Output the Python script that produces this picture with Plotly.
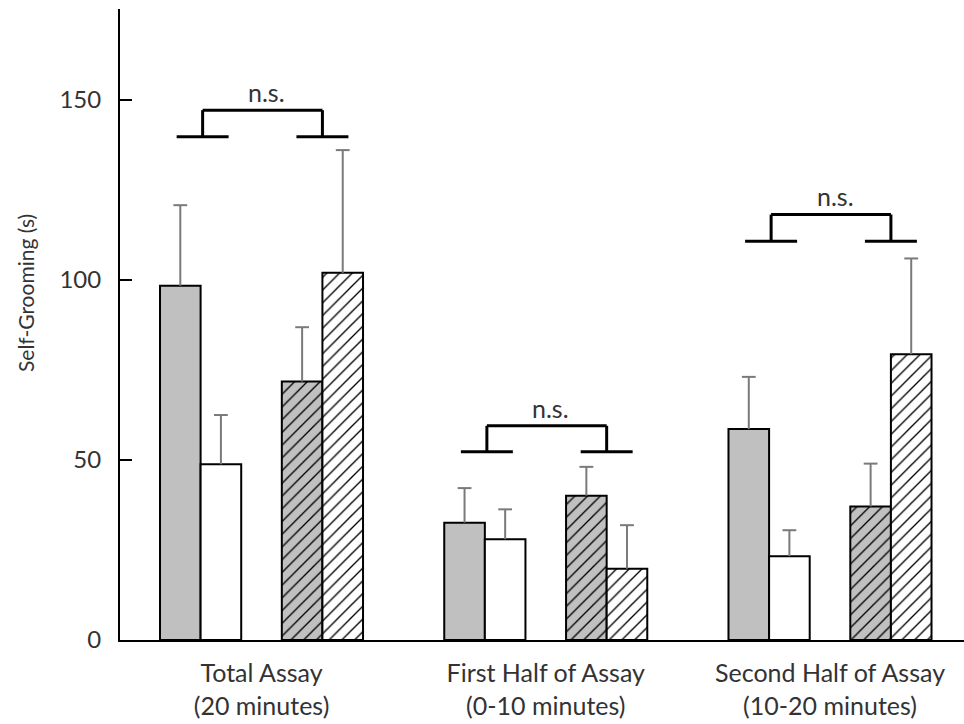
import plotly.graph_objects as go

# ---- data ----
groups = ["Total Assay<br>(20 minutes)", "First Half of Assay<br>(0-10 minutes)", "Second Half of Assay<br>(10-20 minutes)"]
grey_vals = [98.4, 32.6, 58.6]
grey_err = [120.8, 42.2, 73.1]
white_vals = [48.8, 28.0, 23.3]
white_err = [62.5, 36.3, 30.5]
hgrey_vals = [71.8, 40.1, 37.1]
hgrey_err = [86.9, 48.1, 49.0]
hwhite_vals = [102.0, 19.8, 79.4]
hwhite_err = [136.1, 31.9, 106.0]

# significance brackets (one per group): top line, base line
bracket_top = [147.2, 59.5, 118.2]
bracket_base = [139.8, 52.3, 110.8]
bracket_label = ["n.s.", "n.s.", "n.s."]
y_ticks = [0, 50, 100, 150]

# ---- layout helpers ----
GROUP_STEP = 7
OFFSETS = [0, 1, 3, 4]
GREY = "#c0c0c0"
ERRC = "#7a7a7a"
TXT = "#333333"
FONT = "Lato"
CAP = 0.17

def xs(off):
    return [g * GROUP_STEP + off for g in range(len(groups))]

series = [
    (grey_vals, grey_err, GREY, None),
    (white_vals, white_err, "white", None),
    (hgrey_vals, hgrey_err, GREY, "/"),
    (hwhite_vals, hwhite_err, "white", "/"),
]

fig = go.Figure()
for (vals, tops, col, pat), off in zip(series, OFFSETS):
    marker = dict(color=col, line=dict(color="black", width=2))
    if pat:
        marker["pattern"] = dict(shape=pat, fgcolor="black", bgcolor=col,
                                 size=9, solidity=0.15, fillmode="replace")
    fig.add_trace(go.Bar(x=xs(off), y=vals, width=1, marker=marker, showlegend=False))
    # upward-only error bars
    ex, ey = [], []
    for x, v, t in zip(xs(off), vals, tops):
        ex += [x, x, None, x - CAP, x + CAP, None]
        ey += [v, t, None, t, t, None]
    fig.add_trace(go.Scatter(x=ex, y=ey, mode="lines", line=dict(color=ERRC, width=2),
                             showlegend=False, hoverinfo="skip"))

# brackets
for g in range(len(groups)):
    base = g * GROUP_STEP
    xl = base + (OFFSETS[0] + OFFSETS[1]) / 2 + 0.05
    xr = base + (OFFSETS[2] + OFFSETS[3]) / 2
    half = 0.64
    ln = dict(color="black", width=3)
    fig.add_shape(type="line", x0=xl, x1=xr, y0=bracket_top[g], y1=bracket_top[g], line=ln)
    fig.add_shape(type="line", x0=xl, x1=xl, y0=bracket_base[g], y1=bracket_top[g], line=ln)
    fig.add_shape(type="line", x0=xr, x1=xr, y0=bracket_base[g], y1=bracket_top[g], line=ln)
    fig.add_shape(type="line", x0=xl - half, x1=xl + half, y0=bracket_base[g], y1=bracket_base[g], line=ln)
    fig.add_shape(type="line", x0=xr - half, x1=xr + half, y0=bracket_base[g], y1=bracket_base[g], line=ln)
    fig.add_annotation(x=(xl + xr) / 2 + 0.1, y=bracket_top[g] + 0.3, text=bracket_label[g],
                       showarrow=False, yanchor="bottom",
                       font=dict(family=FONT, size=25, color=TXT))

fig.add_annotation(text="Self-Grooming (s)", textangle=-90, xref="paper", yref="paper",
                   x=(25 - 120) / 844, y=(640 - 293) / 631, showarrow=False,
                   xanchor="center", yanchor="middle",
                   font=dict(family=FONT, size=21, color=TXT))

fig.update_layout(
    width=964, height=724,
    margin=dict(l=120, r=0, t=9, b=84),
    paper_bgcolor="white", plot_bgcolor="white",
    barmode="overlay",
    xaxis=dict(range=[-1.485, 19.3], tickvals=[2 + g * GROUP_STEP for g in range(len(groups))],
               ticktext=groups, showgrid=False, zeroline=False,
               showline=True, linecolor="black", linewidth=2, ticks="",
               ticklabelstandoff=10,
               tickfont=dict(family=FONT, size=25, color=TXT)),
    yaxis=dict(range=[0, 175.3], tickvals=y_ticks, showgrid=False, zeroline=False,
               showline=True, linecolor="black", linewidth=2,
               ticks="inside", ticklen=12, tickwidth=2, tickcolor="black",
               ticklabelstandoff=12,
               tickfont=dict(family=FONT, size=24, color=TXT)),
)

fig.write_html("out.html")
